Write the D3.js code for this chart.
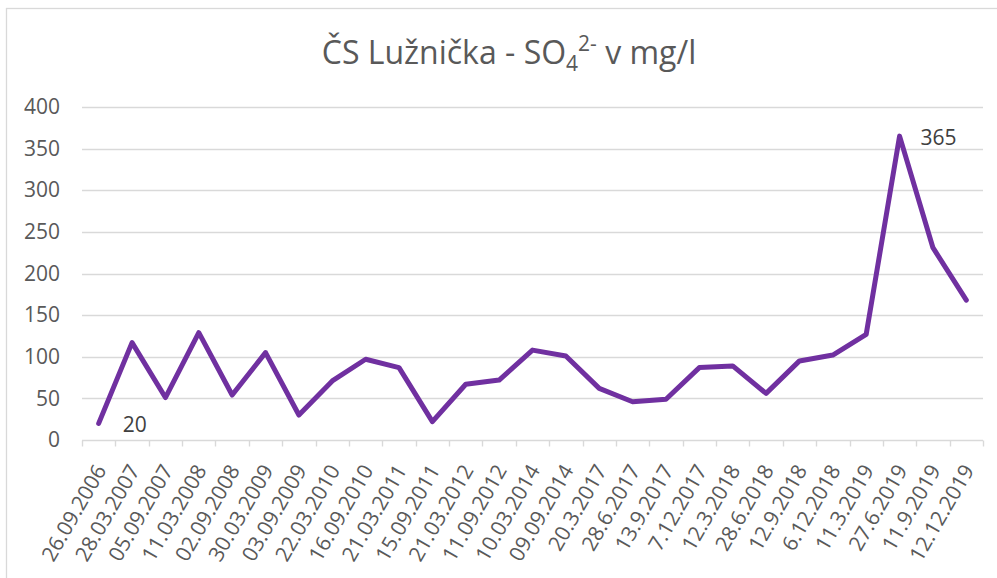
<!DOCTYPE html>
<html>
<head>
<meta charset="utf-8">
<script src="https://cdn.jsdelivr.net/npm/d3@7"></script>
<style>
  html, body { margin: 0; padding: 0; background: #fff; }
  svg { display: block; }
  text { font-family: "Open Sans", "Noto Sans", sans-serif; }
</style>
</head>
<body>
<svg id="chart" width="997" height="578"></svg>
<script>
// Sampling dates at the pumping station
const dates = [
  "26.09.2006", "28.03.2007", "05.09.2007", "11.03.2008", "02.09.2008",
  "30.03.2009", "03.09.2009", "22.03.2010", "16.09.2010", "21.03.2011",
  "15.09.2011", "21.03.2012", "11.09.2012", "10.03.2014", "09.09.2014",
  "20.3.2017", "28.6.2017", "13.9.2017", "7.12.2017", "12.3.2018",
  "28.6.2018", "12.9.2018", "6.12.2018", "11.3.2019", "27.6.2019",
  "11.9.2019", "12.12.2019"
];

// Sulphate concentration, mg/l
const sulphate = [
  20, 117, 51, 129, 54, 105, 30, 71, 97, 87,
  22, 67, 72, 108, 101, 62, 46, 49, 87, 89,
  56, 95, 102, 127, 365, 231, 168
];

const yTicks = [0, 50, 100, 150, 200, 250, 300, 350, 400];

// Points whose value is printed next to the line
const labelled = [0, 24];

const svg = d3.select("#chart");
const plotLeft = 82, plotRight = 983;

// Chart frame (only its top and left edges fall inside the view)
svg.append("rect")
  .attr("x", 6.5).attr("y", 8.5)
  .attr("width", 1100).attr("height", 700)
  .attr("fill", "#fff").attr("stroke", "#d9d9d9").attr("stroke-width", 1.3);

const x = d3.scaleBand()
  .domain(dates)
  .range([plotLeft, plotRight]);

const y = d3.scaleLinear()
  .domain([0, 400])
  .range([440, 107]);

// Title with subscript and superscript
const title = svg.append("text")
  .attr("x", 509).attr("y", 64)
  .attr("text-anchor", "middle")
  .attr("fill", "#595959")
  .style("font-size", "32px");
title.append("tspan").text("ČS Lužnička - SO");
title.append("tspan").attr("dy", 7).style("font-size", "21px").text("4");
title.append("tspan").attr("dy", -20).style("font-size", "21px").text("2-");
title.append("tspan").attr("dy", 13).text(" v mg/l");

// Horizontal gridlines
svg.append("g")
  .selectAll("line")
  .data(yTicks.filter(d => d > 0))
  .join("line")
  .attr("x1", plotLeft).attr("x2", plotRight)
  .attr("y1", d => Math.round(y(d)) + 0.5)
  .attr("y2", d => Math.round(y(d)) + 0.5)
  .attr("stroke", "#d9d9d9").attr("stroke-width", 1.4);

// Y axis labels
const yAxis = d3.axisLeft(y).tickValues(yTicks).tickSize(0).tickPadding(22);
svg.append("g")
  .attr("transform", `translate(${plotLeft},0)`)
  .call(yAxis)
  .call(g => g.select(".domain").remove())
  .call(g => g.selectAll("text")
    .attr("fill", "#595959")
    .style("font-size", "21px")
    .style("font-family", "'Open Sans', sans-serif"));

// X axis line with tick marks at category boundaries
const xg = svg.append("g").attr("transform", `translate(0,${Math.round(y(0)) + 0.5})`);
xg.append("line")
  .attr("x1", plotLeft).attr("x2", plotRight)
  .attr("stroke", "#d9d9d9").attr("stroke-width", 1.4);
const bounds = dates.map(d => x(d)).concat([x(dates[dates.length - 1]) + x.bandwidth()]);
xg.selectAll("line.tk")
  .data(bounds)
  .join("line")
  .attr("class", "tk")
  .attr("x1", d => Math.round(d) + 0.5).attr("x2", d => Math.round(d) + 0.5)
  .attr("y1", 0).attr("y2", 6)
  .attr("stroke", "#d9d9d9").attr("stroke-width", 1.4);

// Rotated date labels
xg.selectAll("text")
  .data(dates)
  .join("text")
  .attr("transform", d => `translate(${x(d) + x.bandwidth() / 2 + 2},${26}) rotate(-60)`)
  .attr("text-anchor", "end")
  .attr("dy", "0.35em")
  .attr("fill", "#595959")
  .style("font-size", "21px")
  .text(d => d);

// Data line
const line = d3.line()
  .x((d, i) => x(dates[i]) + x.bandwidth() / 2)
  .y(d => y(d));

svg.append("path")
  .datum(sulphate)
  .attr("d", line)
  .attr("fill", "none")
  .attr("stroke", "#7030a0")
  .attr("stroke-width", 5)
  .attr("stroke-linejoin", "round")
  .attr("stroke-linecap", "round");

// Value labels
const labelOffsets = { 0: [24, 1], 24: [21, 1.5] };
svg.append("g")
  .selectAll("text")
  .data(labelled)
  .join("text")
  .attr("x", i => x(dates[i]) + x.bandwidth() / 2 + labelOffsets[i][0])
  .attr("y", i => y(sulphate[i]) + labelOffsets[i][1])
  .attr("dy", "0.35em")
  .attr("fill", "#404040")
  .style("font-size", "21px")
  .text(i => sulphate[i]);
</script>
</body>
</html>
